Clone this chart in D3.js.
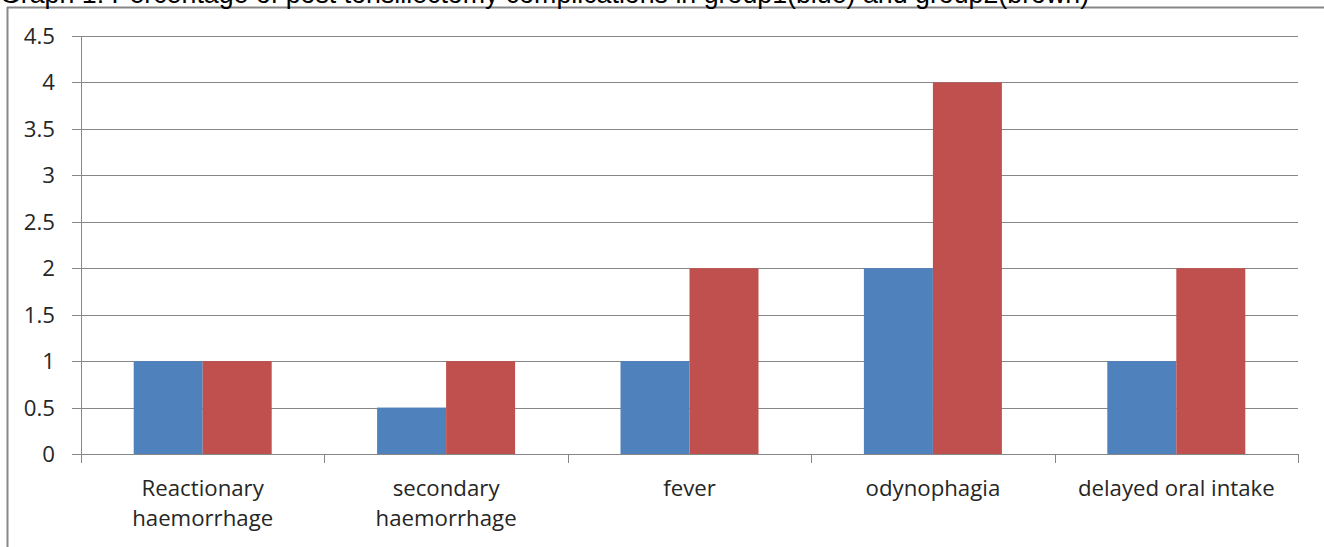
<!DOCTYPE html>
<html><head><meta charset="utf-8">
<script src="https://cdn.jsdelivr.net/npm/d3@7"></script>
<style>body{margin:0;background:#fff;overflow:hidden}</style>
</head><body>
<svg id="c" width="1324" height="547"></svg>
<script>
const categories = [["Reactionary","haemorrhage"],["secondary","haemorrhage"],["fever"],["odynophagia"],["delayed oral intake"]];
const group1 = [1, 0.5, 1, 2, 1];
const group2 = [1, 1, 2, 4, 2];
const yTicks = [0, 0.5, 1, 1.5, 2, 2.5, 3, 3.5, 4, 4.5];
const title = "Graph 1: Percentage of post tonsillectomy complications in group1(blue) and group2(brown)";

(function(){
const svg = d3.select("#c");
const pL = 81, pR = 1298, pT = 36, pB = 454;
const x = d3.scaleBand().domain(d3.range(categories.length)).range([pL, pR]).paddingInner(0).paddingOuter(0);
const y = d3.scaleLinear().domain([0, 4.5]).range([pB, pT]);
const bw = 69;
const lf = "'Open Sans', sans-serif";

// measure label font size
const probe = svg.append("text").attr("font-family",lf).attr("font-size",20).text("delayed oral intake");
const fs = 20*197/probe.node().getComputedTextLength();
probe.remove();

// frame
svg.append("line").attr("x1",7).attr("x2",1324).attr("y1",7.5).attr("y2",7.5).attr("stroke","#878787").attr("stroke-width",2);
svg.append("line").attr("x1",7.5).attr("x2",7.5).attr("y1",7).attr("y2",547).attr("stroke","#878787").attr("stroke-width",2);

// title
const t = svg.append("text").attr("x",0).attr("y",3).attr("font-family","Liberation Sans, Arial").attr("font-size",22).attr("fill","#000").text(title);
const w = t.node().getComputedTextLength();
t.attr("font-size", 22*1090/w);

// gridlines
svg.append("g").selectAll("line").data(yTicks).join("line")
  .attr("x1", pL-9).attr("x2", pR).attr("y1", d=>Math.round(y(d))+0.5).attr("y2", d=>Math.round(y(d))+0.5)
  .attr("stroke","#878787").attr("stroke-width",1);

// y axis line
svg.append("line").attr("x1",pL+0.5).attr("x2",pL+0.5).attr("y1",pT).attr("y2",pB).attr("stroke","#878787");

// y labels
svg.append("g").selectAll("text").data(yTicks).join("text")
  .attr("x", 55).attr("y", d=>y(d)).attr("dy","0.36em").attr("text-anchor","end")
  .attr("font-family",lf).attr("font-size",fs).attr("fill","#262626").text(d=>d);

// bars
const g = svg.append("g");
g.selectAll("rect.b").data(group1).join("rect")
  .attr("x",(d,i)=>x(i)+x.bandwidth()/2-bw).attr("width",bw)
  .attr("y",d=>y(d)).attr("height",d=>pB-y(d)).attr("fill","#4F81BD");
g.selectAll("rect.r").data(group2).join("rect")
  .attr("x",(d,i)=>x(i)+x.bandwidth()/2).attr("width",bw)
  .attr("y",d=>y(d)).attr("height",d=>pB-y(d)).attr("fill","#C0504D");

// x axis line and ticks
svg.append("line").attr("x1",pL).attr("x2",pR).attr("y1",pB+0.5).attr("y2",pB+0.5).attr("stroke","#878787");
const xt = d3.range(categories.length+1).map(i=> i<categories.length ? x(i) : pR);
svg.append("g").selectAll("line").data(xt).join("line")
  .attr("x1",d=>Math.round(d)+0.5).attr("x2",d=>Math.round(d)+0.5).attr("y1",pB).attr("y2",pB+9)
  .attr("stroke","#878787");

// x labels
const lab = svg.append("g").selectAll("text").data(categories).join("text")
  .attr("text-anchor","middle").attr("font-family",lf).attr("font-size",fs).attr("fill","#262626");
lab.each(function(d,i){
  const s = d3.select(this);
  d.forEach((line,j)=>{
    s.append("tspan").attr("x", x(i)+x.bandwidth()/2).attr("y", 496 + j*30).text(line);
  });
});
})();
</script>
</body></html>
